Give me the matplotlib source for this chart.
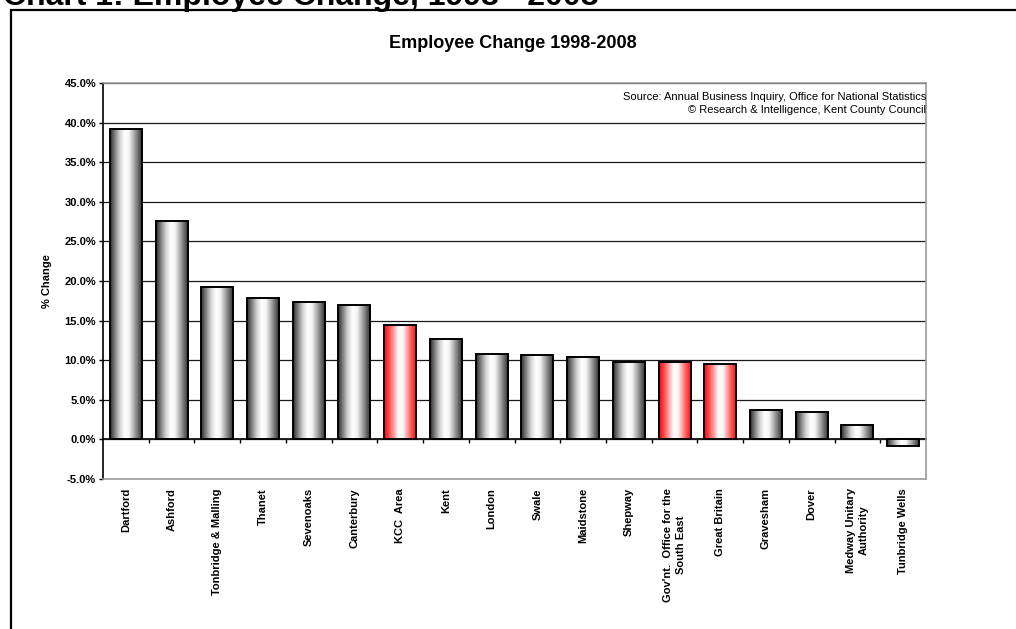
import numpy as np
import matplotlib
matplotlib.use("Agg")
import matplotlib.pyplot as plt
from matplotlib.colors import LinearSegmentedColormap
from matplotlib.patches import Rectangle

plt.rcParams['font.family'] = ['Liberation Sans', 'DejaVu Sans']

categories = ["Dartford", "Ashford", "Tonbridge & Malling", "Thanet", "Sevenoaks",
              "Canterbury", "KCC  Area", "Kent", "London", "Swale", "Maidstone",
              "Shepway", "Gov'nt.  Office for the\nSouth East", "Great Britain",
              "Gravesham", "Dover", "Medway Unitary\nAuthority", "Tunbridge Wells"]
values = [39.2, 27.6, 19.2, 17.8, 17.3, 17.0, 14.45, 12.7, 10.8, 10.7, 10.45,
          9.83, 9.75, 9.58, 3.66, 3.4, 1.76, -0.8]
highlighted = ["KCC  Area", "Gov'nt.  Office for the\nSouth East", "Great Britain"]
y_ticks = [-5, 0, 5, 10, 15, 20, 25, 30, 35, 40, 45]

W, H = 1016, 629
fig = plt.figure(figsize=(W / 100, H / 100), dpi=100)
ax = fig.add_axes([103 / W, 1 - 479 / H, 823 / W, 396 / H])

gray_cmap = LinearSegmentedColormap.from_list(
    "g", [(0.0, "#2a2a2a"), (0.12, "#707070"), (0.3, "#d4d4d4"), (0.45, "#ffffff"),
          (0.58, "#f4f4f4"), (0.78, "#949494"), (1.0, "#222222")])
red_cmap = LinearSegmentedColormap.from_list(
    "r", [(0.0, "#ff0000"), (0.15, "#ff4a4a"), (0.45, "#ffffff"),
          (0.58, "#fff4f4"), (0.82, "#ff5a5a"), (1.0, "#ff0000")])
grad = np.linspace(0, 1, 256).reshape(1, -1)

x = np.arange(len(categories))
bw = 0.7
ymin, ymax = -5, 45

for yv in y_ticks[1:]:
    ax.axhline(yv, color="#1a1a1a", lw=0.9, zorder=1)

bars = ax.bar(x, values, width=bw, facecolor="none", edgecolor="black", lw=1.4, zorder=4)
for b, cat in zip(bars, categories):
    cmap = red_cmap if cat in highlighted else gray_cmap
    x0, y0 = b.get_x(), b.get_y()
    bwid, bh = b.get_width(), b.get_height()
    im = ax.imshow(grad, cmap=cmap, aspect="auto", extent=[x0, x0 + bwid, y0, y0 + bh],
                   zorder=3, interpolation="bilinear")
    im.set_clip_path(b)

ax.set_xlim(-0.5, len(categories) - 0.5)
ax.set_ylim(ymin, ymax)

ax.set_yticks(y_ticks)
ax.set_yticklabels([f"{v:.1f}%" for v in y_ticks])
ax.tick_params(axis="y", direction="out", length=3, width=1, pad=2, labelsize=8)
for lab in ax.get_yticklabels():
    lab.set_fontweight("bold")

ax.set_xticks(x)
ax.set_xticklabels(categories, rotation=90, ha="center", va="top", fontsize=8,
                   fontweight="bold", multialignment="center", linespacing=1.35)
ax.tick_params(axis="x", length=0, pad=6.5)

for s in ["top", "right", "bottom"]:
    ax.spines[s].set_color("#9a9a9a")
    ax.spines[s].set_linewidth(1.2)
ax.spines["left"].set_color("black")
ax.spines["left"].set_linewidth(1.2)

# zero axis with category-boundary ticks
loc0 = (0 - ymin) / (ymax - ymin)
sec = ax.secondary_xaxis(loc0)
sec.set_xticks(x[:-1] + 0.5)
sec.set_xticklabels([])
sec.tick_params(direction="out", length=3, width=1, color="black")
sec.spines["bottom"].set_color("black")
sec.spines["bottom"].set_linewidth(1.2)
sec.spines["bottom"].set_zorder(5)

ax.set_ylabel("% Change", fontsize=8, fontweight="bold")
ax.yaxis.set_label_coords((52 - 103) / 823, 0.5)

ax.text(1.0, (479 - 97) / 396, "Source: Annual Business Inquiry, Office for National Statistics",
        transform=ax.transAxes, ha="right", va="center", fontsize=8)
ax.text(1.0, (479 - 110) / 396, "\u00a9 Research & Intelligence, Kent County Council",
        transform=ax.transAxes, ha="right", va="center", fontsize=8)

fig.text(513 / W, 1 - 44 / H, "Employee Change 1998-2008", ha="center", va="center",
         fontsize=13, fontweight="bold")
fig.text(3 / W, 1 - 5 / H, "Chart 1: Employee Change, 1998 - 2008", ha="left",
         va="baseline", fontsize=23, fontweight="bold")

fig.add_artist(Rectangle((11 / W, -0.1), 1.2, (1 - 10 / H) + 0.1, transform=fig.transFigure,
                         fill=False, lw=1.6, edgecolor="black"))

fig.savefig("out.png", dpi=100)
